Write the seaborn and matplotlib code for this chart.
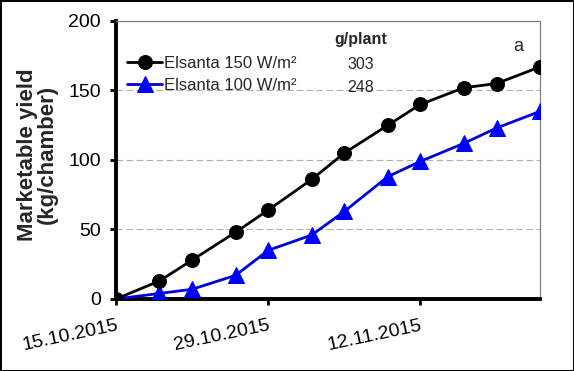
import matplotlib
matplotlib.use("Agg")
import matplotlib.pyplot as plt
import matplotlib.dates as mdates
import seaborn as sns
import pandas as pd

dates = ["2015-10-15", "2015-10-19", "2015-10-22", "2015-10-26", "2015-10-29", "2015-11-02",
         "2015-11-05", "2015-11-09", "2015-11-12", "2015-11-16", "2015-11-19", "2015-11-23"]
yield_150 = [0, 13, 28, 48, 64, 86, 105, 125, 140, 152, 155, 167]
yield_100 = [0, 4, 7, 17, 35, 46, 63, 88, 99, 112, 123, 135]
series_names = ["Elsanta 150 W/m²", "Elsanta 100 W/m²"]
g_per_plant = ["303", "248"]
tick_dates = ["2015-10-15", "2015-10-29", "2015-11-12"]

sns.set_theme(style="white")
plt.rcParams["font.family"] = ["Liberation Sans", "DejaVu Sans"]

d = pd.to_datetime(dates)
df150 = pd.DataFrame({"date": d, "y": yield_150})
df100 = pd.DataFrame({"date": d, "y": yield_100})

fig = plt.figure(figsize=(5.74, 3.71), dpi=100, facecolor="white", edgecolor="black", linewidth=2)
ax = fig.add_axes([0.2021, 0.1941, 0.7387, 0.7493])

sns.lineplot(data=df150, x="date", y="y", ax=ax, color="black", marker="o", markersize=10,
             linewidth=2, markeredgecolor="black", label=series_names[0], zorder=4)
sns.lineplot(data=df100, x="date", y="y", ax=ax, color="#0000dd", marker="^", markersize=11,
             linewidth=2, markeredgecolor="#0000ff", markerfacecolor="#0000ff",
             label=series_names[1], zorder=3)

ax.set_ylim(0, 200)
ax.set_yticks([0, 50, 100, 150, 200])
ax.set_xlim(pd.Timestamp("2015-10-15"), pd.Timestamp("2015-11-23"))
ax.set_xticks(pd.to_datetime(tick_dates))
ax.xaxis.set_major_formatter(mdates.DateFormatter("%d.%m.%Y"))

for yv in [50, 100, 150]:
    ax.axhline(yv, color="#b0b0b0", linestyle=(0, (6, 3)), linewidth=0.8, zorder=0)

for s in ["left", "bottom"]:
    ax.spines[s].set_color("black")
    ax.spines[s].set_linewidth(2.8)
for s in ["top", "right"]:
    ax.spines[s].set_color("#808080")
    ax.spines[s].set_linewidth(0.9)

ax.tick_params(axis="both", which="major", direction="out", length=4, width=2, color="black",
               labelsize=14, labelcolor="black", left=True, bottom=True)
ax.tick_params(axis="y", pad=7)
ax.tick_params(axis="x", pad=9)
plt.setp(ax.get_xticklabels(), rotation=12, ha="right", rotation_mode="anchor")

ax.set_xlabel("")
ax.set_ylabel("Marketable yield\n(kg/chamber)", fontsize=16, fontweight="bold", linespacing=0.92)
ax.yaxis.set_label_coords(-0.138, 0.52)

leg = ax.legend(loc="upper left", bbox_to_anchor=(0.027, 0.875), frameon=False, fontsize=12,
                handlelength=2.1, handletextpad=0.1, labelspacing=0.42, borderaxespad=0,
                borderpad=0)

ax.text(0.578, 0.932, "g/plant", transform=ax.transAxes, fontsize=11.5, fontweight="bold",
        ha="center", va="center")
ax.text(0.578, 0.845, g_per_plant[0], transform=ax.transAxes, fontsize=11.5, ha="center", va="center")
ax.text(0.578, 0.762, g_per_plant[1], transform=ax.transAxes, fontsize=11.5, ha="center", va="center")
ax.text(0.948, 0.91, "a", transform=ax.transAxes, fontsize=13, ha="center", va="center")

fig.savefig("out.png", dpi=100, facecolor="white", edgecolor=fig.get_edgecolor())
